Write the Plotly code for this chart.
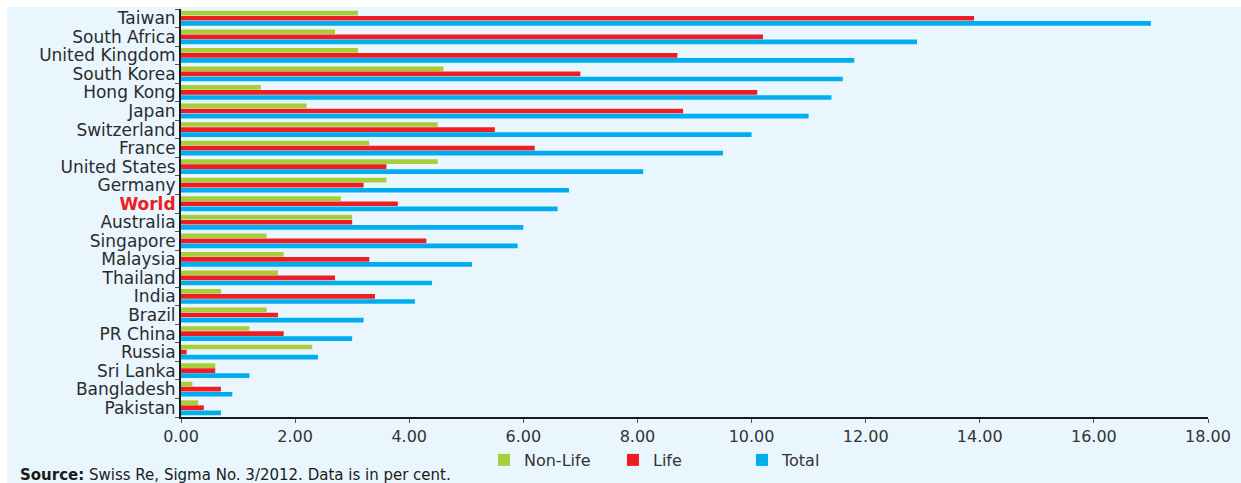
import plotly.graph_objects as go

# Insurance penetration by market (premiums as % of GDP), top to bottom
countries = ["Taiwan", "South Africa", "United Kingdom", "South Korea", "Hong Kong",
             "Japan", "Switzerland", "France", "United States", "Germany", "World",
             "Australia", "Singapore", "Malaysia", "Thailand", "India", "Brazil",
             "PR China", "Russia", "Sri Lanka", "Bangladesh", "Pakistan"]
non_life = [3.1, 2.7, 3.1, 4.6, 1.4, 2.2, 4.5, 3.3, 4.5, 3.6, 2.8,
            3.0, 1.5, 1.8, 1.7, 0.7, 1.5, 1.2, 2.3, 0.6, 0.2, 0.3]
life = [13.9, 10.2, 8.7, 7.0, 10.1, 8.8, 5.5, 6.2, 3.6, 3.2, 3.8,
        3.0, 4.3, 3.3, 2.7, 3.4, 1.7, 1.8, 0.1, 0.6, 0.7, 0.4]
total = [17.0, 12.9, 11.8, 11.6, 11.4, 11.0, 10.0, 9.5, 8.1, 6.8, 6.6,
         6.0, 5.9, 5.1, 4.4, 4.1, 3.2, 3.0, 2.4, 1.2, 0.9, 0.7]
x_ticks = [0, 2, 4, 6, 8, 10, 12, 14, 16, 18]

GREEN = "#A6CE39"
RED = "#EE1D23"
BLUE = "#00AEEF"
BG = "#EAF6FD"
FONT = "DejaVu Sans"

tick_text = [f"<b><span style='color:{RED}'>{c}</span></b>" if c == "World" else c
             for c in countries]

fig = go.Figure()
for name, vals, col in [("Non-Life", non_life, GREEN), ("Life", life, RED), ("Total", total, BLUE)]:
    fig.add_trace(go.Bar(y=countries, x=vals, orientation="h", name=name,
                         marker=dict(color=col, line=dict(width=0))))

fig.update_layout(
    width=1241, height=483,
    margin=dict(l=181, r=33, t=9, b=66, autoexpand=False),
    paper_bgcolor=BG, plot_bgcolor=BG,
    barmode="group", bargap=0.18, bargroupgap=0.08,
    font=dict(family=FONT, color="#333333"),
    showlegend=True,
    legend=dict(orientation="h", x=0.295, y=-0.1054, xanchor="left", yanchor="middle",
                entrywidth=84, entrywidthmode="pixels",
                font=dict(family=FONT, size=16, color="#333333"),
                bgcolor="rgba(0,0,0,0)", itemclick=False),
    xaxis=dict(range=[0, 18], tickvals=x_ticks, tickformat=".2f",
               showgrid=False, zeroline=False,
               showline=True, linecolor="#1a1a1a", linewidth=2,
               ticks="outside", ticklen=4, tickcolor="#555555",
               tickfont=dict(family=FONT, size=16, color="#333333")),
    yaxis=dict(type="category", categoryorder="array", categoryarray=countries,
               autorange="reversed", tickvals=countries, ticktext=tick_text,
               tickson="boundaries",
               showgrid=False, zeroline=False,
               showline=True, linecolor="#1a1a1a", linewidth=2,
               ticks="outside", ticklen=4, tickcolor="#555555",
               tickfont=dict(family=FONT, size=17, color="#2b2b2b")),
    shapes=[
        dict(type="rect", xref="paper", yref="paper", x0=-0.2, x1=1.1, y0=1.0049, y1=1.05,
             fillcolor="white", line=dict(width=0), layer="above"),
        dict(type="rect", xref="paper", yref="paper", x0=-0.2, x1=-0.1694, y0=-0.2, y1=1.05,
             fillcolor="white", line=dict(width=0), layer="above"),
    ],
    annotations=[
        dict(xref="paper", yref="paper", x=-0.1587, y=-0.142, xanchor="left", yanchor="middle",
             showarrow=False, align="left",
             text="<b>Source:</b> Swiss Re, Sigma No. 3/2012. Data is in per cent.",
             font=dict(family=FONT, size=15, color="#1a1a1a")),
    ],
)

fig.write_html("out.html")
